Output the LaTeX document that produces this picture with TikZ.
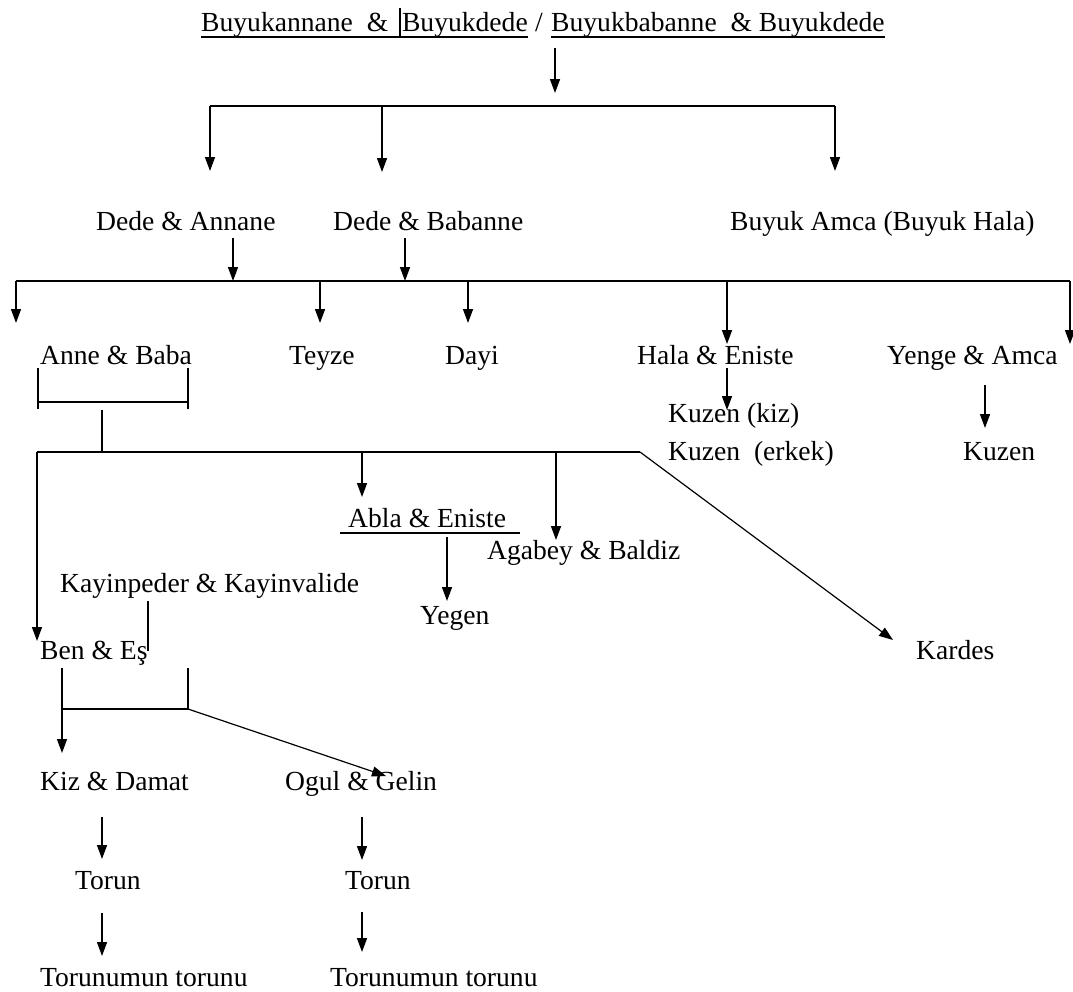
\documentclass[tikz,border=0pt]{standalone}
\usepackage{fontspec}
\setmainfont{Liberation Serif}
\usetikzlibrary{arrows.meta,calc}
\tikzset{
  lbl/.style={inner sep=0pt, anchor=base west, font=\fontsize{27.6}{32}\selectfont},
  ln/.style={line width=1.5pt, black},
  thinln/.style={line width=1.2pt, black},
  arr/.style={line width=1.5pt, -{Triangle[width=10pt,length=14pt]}},
}
\begin{document}
\begin{tikzpicture}[x=1pt,y=-1pt]
\useasboundingbox (0,0) rectangle (1073,991);
% ---------- texts ----------
\node[lbl] (t1) at (201,31) {Buyukannane \ \& \ Buyukdede};
\node[lbl] (sl) at (535,31) {/};
\node[lbl] (t2) at (551,31) {Buyukbabanne \ \& Buyukdede};
\node[lbl] (da) at (96,230) {Dede \& Annane};
\node[lbl] (db) at (333,230) {Dede \& Babanne};
\node[lbl] (ba) at (730,230) {Buyuk Amca (Buyuk Hala)};
\node[lbl] (anne) at (40,364) {Anne \& Baba};
\node[lbl] (teyze) at (289,364) {Teyze};
\node[lbl] (dayi) at (445,364) {Dayi};
\node[lbl] (hala) at (637,364) {Hala \& Eniste};
\node[lbl] (yenge) at (887,364) {Yenge \& Amca};
\node[lbl] (kuz1) at (668,422) {Kuzen (kiz)};
\node[lbl] (kuz2) at (668,460) {Kuzen \ (erkek)};
\node[lbl] (kuz3) at (963,460) {Kuzen};
\node[lbl] (abla) at (348,527) {Abla \& Eniste};
\node[lbl] (agabey) at (487,559) {Agabey \& Baldiz};
\node[lbl] (kayin) at (60,592) {Kayinpeder \& Kayinvalide};
\node[lbl] (yegen) at (420,624) {Yegen};
\node[lbl] (ben) at (40,659) {Ben \& Eş};
\node[lbl] (kardes) at (916,659) {Kardes};
\node[lbl] (kiz) at (40,790) {Kiz \& Damat};
\node[lbl] (ogul) at (285,790) {Ogul \& Gelin};
\node[lbl] (tor1) at (75,889) {Torun};
\node[lbl] (tor2) at (345,889) {Torun};
\node[lbl] (tt1) at (40,986) {Torunumun torunu};
\node[lbl] (tt2) at (330,986) {Torunumun torunu};
% ---------- underlines ----------
\draw[thinln] ($(t1.base west)+(0,6)$) -- ($(t1.base east)+(0,6)$);
\draw[thinln] ($(t2.base west)+(0,6)$) -- ($(t2.base east)+(0,6)$);
\coordinate (cur1) at (400,8); \coordinate (cur2) at (400,38);
\draw[line width=2pt] (cur1) -- (cur2);
\coordinate (abu1) at (340,533); \coordinate (abu2) at (520,533);
\draw[thinln] (abu1) -- (abu2);
% ---------- level 0 -> 1 ----------
\coordinate (c0a) at (555,48); \coordinate (c0b) at (555,93);
\draw[arr] (c0a) -- (c0b);
\coordinate (b1l) at (210,106); \coordinate (b1m) at (382,106); \coordinate (b1r) at (835,106);
\coordinate (e1) at (210,171); \coordinate (e2) at (382,172); \coordinate (e3) at (835,171);
\draw[ln] (b1l) -- (b1r);
\draw[arr] (b1l) -- (e1);
\draw[arr] (b1m) -- (e2);
\draw[arr] (b1r) -- (e3);
% ---------- level 1 -> 2 ----------
\coordinate (s1) at (233,238); \coordinate (s1e) at (233,281);
\coordinate (s2) at (405,238); \coordinate (s2e) at (405,281);
\draw[arr] (s1) -- (s1e);
\draw[arr] (s2) -- (s2e);
\coordinate (b2l) at (16,281); \coordinate (b2r) at (1070,281);
\coordinate (b2a) at (320,281); \coordinate (b2b) at (468,281); \coordinate (b2c) at (727,281);
\draw[ln] (b2l) -- (b2r);
\coordinate (f1) at (16,323); \coordinate (f2) at (320,323); \coordinate (f3) at (468,323);
\coordinate (f4) at (727,344); \coordinate (f5) at (1070,344);
\draw[arr] (b2l) -- (f1);
\draw[arr] (b2a) -- (f2);
\draw[arr] (b2b) -- (f3);
\draw[arr] (b2c) -- (f4);
\draw[arr] (b2r) -- (f5);
% ---------- cousins ----------
\coordinate (h1) at (727,368); \coordinate (h2) at (727,410);
\draw[arr] (h1) -- (h2);
\coordinate (y1) at (985,385); \coordinate (y2) at (985,428);
\draw[arr] (y1) -- (y2);
% ---------- Anne & Baba bracket ----------
\coordinate (ab1) at (38,368); \coordinate (ab2) at (38,409);
\coordinate (ab3) at (188,368); \coordinate (ab4) at (188,409);
\coordinate (ab5) at (38,402); \coordinate (ab6) at (188,402);
\draw[thinln] (ab1) -- (ab2);
\draw[thinln] (ab3) -- (ab4);
\draw[thinln] (ab5) -- (ab6);
\coordinate (st1) at (102,410); \coordinate (st2) at (102,452);
\draw[thinln] (st1) -- (st2);
% ---------- siblings bus ----------
\coordinate (b3l) at (37,452); \coordinate (b3a) at (362,452); \coordinate (b3b) at (556,452);
\coordinate (b3r) at (640,452);
\draw[thinln] (b3l) -- (b3r);
\coordinate (k1) at (893,640);
\draw[arr, line width=1.2pt] (b3r) -- (k1);
\coordinate (g1) at (37,641);
\draw[arr] (b3l) -- (g1);
\coordinate (g2) at (362,497);
\draw[arr] (b3a) -- (g2);
\coordinate (g3) at (556,540);
\draw[arr] (b3b) -- (g3);
\coordinate (ye1) at (447,537); \coordinate (ye2) at (447,601);
\draw[arr] (ye1) -- (ye2);
\coordinate (ky1) at (148,601); \coordinate (ky2) at (148,651);
\draw[thinln] (ky1) -- (ky2);
% ---------- children ----------
\coordinate (c1) at (62,668); \coordinate (c1m) at (62,709); \coordinate (c1e) at (62,753);
\coordinate (c2) at (188,668); \coordinate (c2m) at (188,709);
\coordinate (c3) at (386,776);
\draw[thinln] (c2) -- (c2m) -- (c1m);
\draw[arr] (c1) -- (c1e);
\draw[arr, line width=1.2pt] (c2m) -- (c3);
\coordinate (d1) at (102,817); \coordinate (d1e) at (102,859);
\coordinate (d2) at (362,817); \coordinate (d2e) at (362,860);
\draw[arr] (d1) -- (d1e);
\draw[arr] (d2) -- (d2e);
\coordinate (d3) at (102,913); \coordinate (d3e) at (102,956);
\coordinate (d4) at (362,912); \coordinate (d4e) at (362,952);
\draw[arr] (d3) -- (d3e);
\draw[arr] (d4) -- (d4e);
\end{tikzpicture}
\end{document}
